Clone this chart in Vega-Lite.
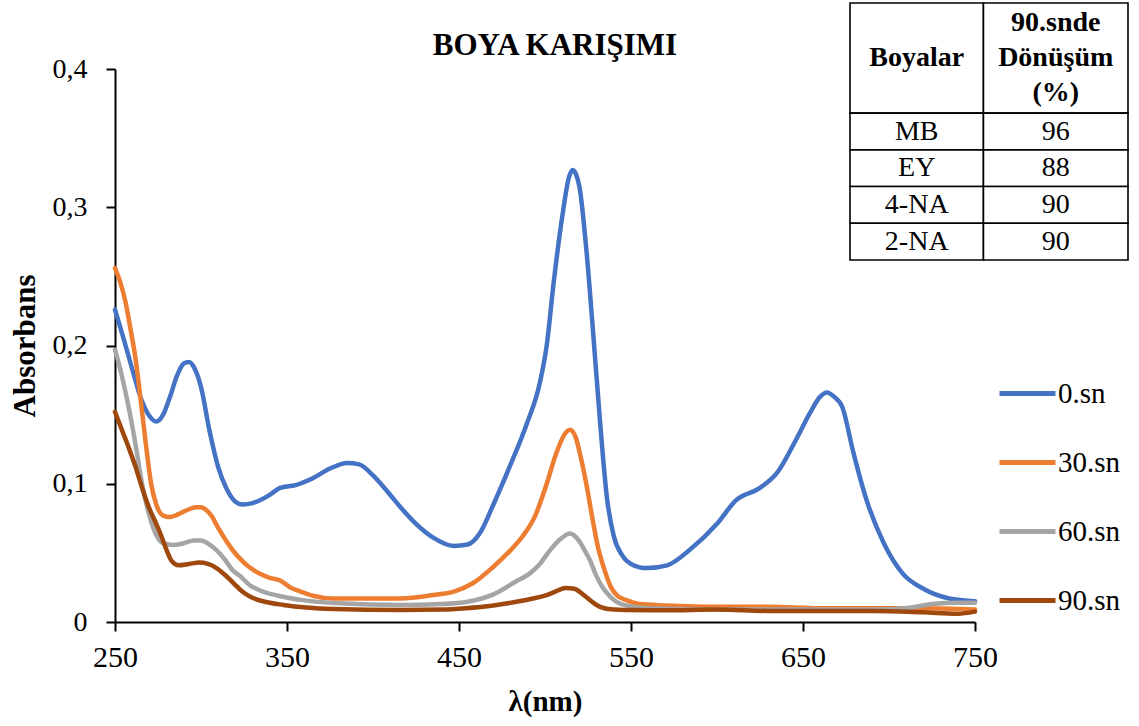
{
  "$schema": "https://vega.github.io/schema/vega-lite/v6.json",
  "autosize": {"type": "none"},
  "width": 860,
  "height": 553,
  "padding": {"left": 115, "top": 69, "right": 164, "bottom": 104},
  "background": "white",
  "config": {
    "font": "Liberation Serif",
    "view": {"stroke": null},
    "axis": {
      "domainColor": "black",
      "tickColor": "black",
      "domainWidth": 2,
      "tickWidth": 2,
      "labelColor": "black",
      "titleColor": "black",
      "labelFont": "Liberation Serif",
      "titleFont": "Liberation Serif",
      "titleFontWeight": "bold",
      "grid": false
    }
  },
  "title": {
    "text": "BOYA KARIŞIMI",
    "font": "Liberation Serif",
    "fontSize": 31,
    "fontWeight": "bold",
    "color": "black",
    "anchor": "middle",
    "baseline": "alphabetic",
    "dx": 10,
    "offset": -84
  },
  "datasets": {
    "spectra": [
      {"s": "0.sn", "nm": 250, "a": 0.226}, {"s": "0.sn", "nm": 255, "a": 0.205}, {"s": "0.sn", "nm": 260, "a": 0.183},
      {"s": "0.sn", "nm": 265, "a": 0.162}, {"s": "0.sn", "nm": 270, "a": 0.149}, {"s": "0.sn", "nm": 274, "a": 0.145},
      {"s": "0.sn", "nm": 278, "a": 0.150}, {"s": "0.sn", "nm": 282, "a": 0.163}, {"s": "0.sn", "nm": 286, "a": 0.178},
      {"s": "0.sn", "nm": 290, "a": 0.187}, {"s": "0.sn", "nm": 293, "a": 0.188}, {"s": "0.sn", "nm": 296, "a": 0.184},
      {"s": "0.sn", "nm": 300, "a": 0.170}, {"s": "0.sn", "nm": 305, "a": 0.138}, {"s": "0.sn", "nm": 310, "a": 0.112},
      {"s": "0.sn", "nm": 315, "a": 0.096}, {"s": "0.sn", "nm": 320, "a": 0.087}, {"s": "0.sn", "nm": 324, "a": 0.085},
      {"s": "0.sn", "nm": 330, "a": 0.086}, {"s": "0.sn", "nm": 340, "a": 0.092}, {"s": "0.sn", "nm": 346, "a": 0.097},
      {"s": "0.sn", "nm": 355, "a": 0.099}, {"s": "0.sn", "nm": 365, "a": 0.104}, {"s": "0.sn", "nm": 375, "a": 0.111},
      {"s": "0.sn", "nm": 385, "a": 0.115}, {"s": "0.sn", "nm": 392, "a": 0.114}, {"s": "0.sn", "nm": 400, "a": 0.106},
      {"s": "0.sn", "nm": 408, "a": 0.095}, {"s": "0.sn", "nm": 416, "a": 0.083}, {"s": "0.sn", "nm": 425, "a": 0.071},
      {"s": "0.sn", "nm": 435, "a": 0.061}, {"s": "0.sn", "nm": 447, "a": 0.055}, {"s": "0.sn", "nm": 455, "a": 0.056},
      {"s": "0.sn", "nm": 462, "a": 0.064}, {"s": "0.sn", "nm": 470, "a": 0.085}, {"s": "0.sn", "nm": 480, "a": 0.114},
      {"s": "0.sn", "nm": 489, "a": 0.142}, {"s": "0.sn", "nm": 497, "a": 0.173}, {"s": "0.sn", "nm": 501, "a": 0.200},
      {"s": "0.sn", "nm": 505, "a": 0.245}, {"s": "0.sn", "nm": 510, "a": 0.293}, {"s": "0.sn", "nm": 514, "a": 0.322},
      {"s": "0.sn", "nm": 516, "a": 0.327}, {"s": "0.sn", "nm": 518, "a": 0.324}, {"s": "0.sn", "nm": 520, "a": 0.315},
      {"s": "0.sn", "nm": 524, "a": 0.270}, {"s": "0.sn", "nm": 528, "a": 0.209}, {"s": "0.sn", "nm": 532, "a": 0.145},
      {"s": "0.sn", "nm": 536, "a": 0.090}, {"s": "0.sn", "nm": 540, "a": 0.062}, {"s": "0.sn", "nm": 545, "a": 0.048},
      {"s": "0.sn", "nm": 550, "a": 0.042}, {"s": "0.sn", "nm": 559, "a": 0.039}, {"s": "0.sn", "nm": 571, "a": 0.041},
      {"s": "0.sn", "nm": 584, "a": 0.052}, {"s": "0.sn", "nm": 600, "a": 0.071}, {"s": "0.sn", "nm": 611, "a": 0.088},
      {"s": "0.sn", "nm": 625, "a": 0.097}, {"s": "0.sn", "nm": 635, "a": 0.108}, {"s": "0.sn", "nm": 646, "a": 0.132},
      {"s": "0.sn", "nm": 654, "a": 0.151}, {"s": "0.sn", "nm": 660, "a": 0.163}, {"s": "0.sn", "nm": 664, "a": 0.166},
      {"s": "0.sn", "nm": 668, "a": 0.163}, {"s": "0.sn", "nm": 673, "a": 0.155}, {"s": "0.sn", "nm": 679, "a": 0.124},
      {"s": "0.sn", "nm": 687, "a": 0.088}, {"s": "0.sn", "nm": 697, "a": 0.057}, {"s": "0.sn", "nm": 708, "a": 0.035},
      {"s": "0.sn", "nm": 720, "a": 0.024}, {"s": "0.sn", "nm": 735, "a": 0.017}, {"s": "0.sn", "nm": 750, "a": 0.015},

      {"s": "30.sn", "nm": 250, "a": 0.256}, {"s": "30.sn", "nm": 253, "a": 0.246}, {"s": "30.sn", "nm": 256, "a": 0.232},
      {"s": "30.sn", "nm": 259, "a": 0.212}, {"s": "30.sn", "nm": 262, "a": 0.190}, {"s": "30.sn", "nm": 265, "a": 0.160},
      {"s": "30.sn", "nm": 268, "a": 0.128}, {"s": "30.sn", "nm": 271, "a": 0.100}, {"s": "30.sn", "nm": 274, "a": 0.085},
      {"s": "30.sn", "nm": 278, "a": 0.077}, {"s": "30.sn", "nm": 282, "a": 0.076}, {"s": "30.sn", "nm": 287, "a": 0.078},
      {"s": "30.sn", "nm": 292, "a": 0.081}, {"s": "30.sn", "nm": 297, "a": 0.083}, {"s": "30.sn", "nm": 300, "a": 0.083},
      {"s": "30.sn", "nm": 303, "a": 0.081}, {"s": "30.sn", "nm": 306, "a": 0.077}, {"s": "30.sn", "nm": 310, "a": 0.068},
      {"s": "30.sn", "nm": 315, "a": 0.058}, {"s": "30.sn", "nm": 319, "a": 0.051}, {"s": "30.sn", "nm": 325, "a": 0.043},
      {"s": "30.sn", "nm": 330, "a": 0.038}, {"s": "30.sn", "nm": 334, "a": 0.035}, {"s": "30.sn", "nm": 340, "a": 0.032},
      {"s": "30.sn", "nm": 346, "a": 0.030}, {"s": "30.sn", "nm": 352, "a": 0.025}, {"s": "30.sn", "nm": 358, "a": 0.022},
      {"s": "30.sn", "nm": 365, "a": 0.019}, {"s": "30.sn", "nm": 377, "a": 0.017}, {"s": "30.sn", "nm": 400, "a": 0.017},
      {"s": "30.sn", "nm": 416, "a": 0.017}, {"s": "30.sn", "nm": 435, "a": 0.0195}, {"s": "30.sn", "nm": 447, "a": 0.022},
      {"s": "30.sn", "nm": 458, "a": 0.028}, {"s": "30.sn", "nm": 470, "a": 0.040}, {"s": "30.sn", "nm": 480, "a": 0.052},
      {"s": "30.sn", "nm": 487, "a": 0.062}, {"s": "30.sn", "nm": 494, "a": 0.076}, {"s": "30.sn", "nm": 501, "a": 0.100},
      {"s": "30.sn", "nm": 506, "a": 0.120}, {"s": "30.sn", "nm": 511, "a": 0.135}, {"s": "30.sn", "nm": 514.5, "a": 0.139},
      {"s": "30.sn", "nm": 518, "a": 0.133}, {"s": "30.sn", "nm": 521, "a": 0.118}, {"s": "30.sn", "nm": 524, "a": 0.100},
      {"s": "30.sn", "nm": 528, "a": 0.072}, {"s": "30.sn", "nm": 531, "a": 0.053}, {"s": "30.sn", "nm": 534, "a": 0.040},
      {"s": "30.sn", "nm": 538, "a": 0.026}, {"s": "30.sn", "nm": 542, "a": 0.019}, {"s": "30.sn", "nm": 547, "a": 0.016},
      {"s": "30.sn", "nm": 555, "a": 0.013}, {"s": "30.sn", "nm": 570, "a": 0.012}, {"s": "30.sn", "nm": 600, "a": 0.011},
      {"s": "30.sn", "nm": 630, "a": 0.011}, {"s": "30.sn", "nm": 660, "a": 0.010}, {"s": "30.sn", "nm": 690, "a": 0.010},
      {"s": "30.sn", "nm": 720, "a": 0.010}, {"s": "30.sn", "nm": 750, "a": 0.009},

      {"s": "60.sn", "nm": 250, "a": 0.197}, {"s": "60.sn", "nm": 254, "a": 0.178}, {"s": "60.sn", "nm": 258, "a": 0.155},
      {"s": "60.sn", "nm": 262, "a": 0.128}, {"s": "60.sn", "nm": 266, "a": 0.098}, {"s": "60.sn", "nm": 270, "a": 0.077},
      {"s": "60.sn", "nm": 274, "a": 0.063}, {"s": "60.sn", "nm": 278, "a": 0.057}, {"s": "60.sn", "nm": 284, "a": 0.0557},
      {"s": "60.sn", "nm": 290, "a": 0.057}, {"s": "60.sn", "nm": 296, "a": 0.059}, {"s": "60.sn", "nm": 300, "a": 0.059},
      {"s": "60.sn", "nm": 305, "a": 0.056}, {"s": "60.sn", "nm": 309, "a": 0.052}, {"s": "60.sn", "nm": 314, "a": 0.045},
      {"s": "60.sn", "nm": 318, "a": 0.038}, {"s": "60.sn", "nm": 323, "a": 0.033}, {"s": "60.sn", "nm": 328, "a": 0.027},
      {"s": "60.sn", "nm": 334, "a": 0.023}, {"s": "60.sn", "nm": 345, "a": 0.019}, {"s": "60.sn", "nm": 358, "a": 0.016},
      {"s": "60.sn", "nm": 380, "a": 0.0135}, {"s": "60.sn", "nm": 416, "a": 0.0123}, {"s": "60.sn", "nm": 440, "a": 0.013},
      {"s": "60.sn", "nm": 455, "a": 0.0147}, {"s": "60.sn", "nm": 470, "a": 0.020}, {"s": "60.sn", "nm": 484, "a": 0.030},
      {"s": "60.sn", "nm": 491, "a": 0.035}, {"s": "60.sn", "nm": 497, "a": 0.042}, {"s": "60.sn", "nm": 503, "a": 0.052},
      {"s": "60.sn", "nm": 509, "a": 0.060}, {"s": "60.sn", "nm": 514.5, "a": 0.064}, {"s": "60.sn", "nm": 519, "a": 0.060},
      {"s": "60.sn", "nm": 523, "a": 0.052}, {"s": "60.sn", "nm": 526, "a": 0.045}, {"s": "60.sn", "nm": 530, "a": 0.033},
      {"s": "60.sn", "nm": 533, "a": 0.026}, {"s": "60.sn", "nm": 536, "a": 0.021}, {"s": "60.sn", "nm": 541, "a": 0.015},
      {"s": "60.sn", "nm": 547, "a": 0.012}, {"s": "60.sn", "nm": 560, "a": 0.010}, {"s": "60.sn", "nm": 600, "a": 0.009},
      {"s": "60.sn", "nm": 650, "a": 0.009}, {"s": "60.sn", "nm": 690, "a": 0.009}, {"s": "60.sn", "nm": 710, "a": 0.010},
      {"s": "60.sn", "nm": 725, "a": 0.013}, {"s": "60.sn", "nm": 740, "a": 0.014}, {"s": "60.sn", "nm": 750, "a": 0.014},

      {"s": "90.sn", "nm": 250, "a": 0.152}, {"s": "90.sn", "nm": 254, "a": 0.139}, {"s": "90.sn", "nm": 258, "a": 0.126},
      {"s": "90.sn", "nm": 262, "a": 0.112}, {"s": "90.sn", "nm": 266, "a": 0.096}, {"s": "90.sn", "nm": 270, "a": 0.082},
      {"s": "90.sn", "nm": 274, "a": 0.071}, {"s": "90.sn", "nm": 277, "a": 0.062}, {"s": "90.sn", "nm": 280, "a": 0.052},
      {"s": "90.sn", "nm": 283, "a": 0.044}, {"s": "90.sn", "nm": 287, "a": 0.041}, {"s": "90.sn", "nm": 293, "a": 0.042},
      {"s": "90.sn", "nm": 299, "a": 0.043}, {"s": "90.sn", "nm": 304, "a": 0.042}, {"s": "90.sn", "nm": 309, "a": 0.039},
      {"s": "90.sn", "nm": 314, "a": 0.034}, {"s": "90.sn", "nm": 319, "a": 0.028}, {"s": "90.sn", "nm": 324, "a": 0.022},
      {"s": "90.sn", "nm": 329, "a": 0.018}, {"s": "90.sn", "nm": 336, "a": 0.015}, {"s": "90.sn", "nm": 348, "a": 0.0123},
      {"s": "90.sn", "nm": 377, "a": 0.0094}, {"s": "90.sn", "nm": 416, "a": 0.0087}, {"s": "90.sn", "nm": 440, "a": 0.009},
      {"s": "90.sn", "nm": 454, "a": 0.010}, {"s": "90.sn", "nm": 470, "a": 0.012}, {"s": "90.sn", "nm": 485, "a": 0.015},
      {"s": "90.sn", "nm": 493, "a": 0.017}, {"s": "90.sn", "nm": 500, "a": 0.019}, {"s": "90.sn", "nm": 506, "a": 0.022},
      {"s": "90.sn", "nm": 512, "a": 0.0246}, {"s": "90.sn", "nm": 517, "a": 0.024}, {"s": "90.sn", "nm": 522, "a": 0.020},
      {"s": "90.sn", "nm": 527, "a": 0.015}, {"s": "90.sn", "nm": 532, "a": 0.011}, {"s": "90.sn", "nm": 540, "a": 0.009},
      {"s": "90.sn", "nm": 547, "a": 0.0087}, {"s": "90.sn", "nm": 570, "a": 0.0085}, {"s": "90.sn", "nm": 600, "a": 0.009},
      {"s": "90.sn", "nm": 630, "a": 0.008}, {"s": "90.sn", "nm": 660, "a": 0.008}, {"s": "90.sn", "nm": 690, "a": 0.008},
      {"s": "90.sn", "nm": 720, "a": 0.007}, {"s": "90.sn", "nm": 740, "a": 0.006}, {"s": "90.sn", "nm": 750, "a": 0.0075}
    ],
    "conversion": [
      {"c0": 0, "c1": 0.48, "r0": 0, "r1": 3, "txt": "Boyalar", "part": "head"},
      {"c0": 0.48, "c1": 1, "r0": 0, "r1": 3, "txt": "90.snde\nDönüşüm\n(%)", "part": "head3"},
      {"c0": 0, "c1": 0.48, "r0": 3, "r1": 4, "txt": "MB", "part": "body"},
      {"c0": 0.48, "c1": 1, "r0": 3, "r1": 4, "txt": "96", "part": "body"},
      {"c0": 0, "c1": 0.48, "r0": 4, "r1": 5, "txt": "EY", "part": "body"},
      {"c0": 0.48, "c1": 1, "r0": 4, "r1": 5, "txt": "88", "part": "body"},
      {"c0": 0, "c1": 0.48, "r0": 5, "r1": 6, "txt": "4-NA", "part": "body"},
      {"c0": 0.48, "c1": 1, "r0": 5, "r1": 6, "txt": "90", "part": "body"},
      {"c0": 0, "c1": 0.48, "r0": 6, "r1": 7, "txt": "2-NA", "part": "body"},
      {"c0": 0.48, "c1": 1, "r0": 6, "r1": 7, "txt": "90", "part": "body"}
    ]
  },
  "layer": [
    {
      "data": {"name": "spectra"},
      "mark": {"type": "line", "strokeWidth": 4.5, "interpolate": "monotone", "strokeCap": "round", "strokeJoin": "round"},
      "encoding": {
        "x": {
          "field": "nm",
          "type": "quantitative",
          "scale": {"domain": [250, 750], "nice": false, "zero": false},
          "axis": {
            "title": "λ(nm)",
            "values": [250, 350, 450, 550, 650, 750],
            "tickSize": 9,
            "labelFontSize": 30,
            "titleFontSize": 29,
            "labelPadding": 11,
            "titlePadding": 15,
            "labelFlush": false
          }
        },
        "y": {
          "field": "a",
          "type": "quantitative",
          "scale": {"domain": [0, 0.4], "nice": false},
          "axis": {
            "title": "Absorbans",
            "values": [0, 0.1, 0.2, 0.3, 0.4],
            "labelExpr": "datum.value == 0 ? '0' : replace(format(datum.value, '.1f'), '.', ',')",
            "tickSize": 9,
            "labelFontSize": 28,
            "titleFontSize": 31,
            "labelPadding": 19,
            "titlePadding": 11
          }
        },
        "color": {
          "field": "s",
          "type": "nominal",
          "sort": ["0.sn", "30.sn", "60.sn", "90.sn"],
          "scale": {
            "domain": ["0.sn", "30.sn", "60.sn", "90.sn"],
            "range": ["#4472C4", "#ED7D31", "#A5A5A5", "#9E480E"]
          },
          "legend": {
            "title": null,
            "orient": "none",
            "legendX": 882,
            "legendY": 294,
            "symbolType": "stroke",
            "symbolSize": 3136,
            "symbolStrokeWidth": 5,
            "labelFont": "Liberation Serif",
            "labelFontSize": 29,
            "labelColor": "black",
            "labelOffset": 0,
            "rowPadding": 23
          }
        }
      }
    },
    {
      "data": {"name": "conversion"},
      "transform": [
        {"calculate": "(datum.c0 + datum.c1) / 2", "as": "cm"},
        {"calculate": "(datum.r0 + datum.r1) / 2", "as": "rm"}
      ],
      "encoding": {
        "x": {"field": "c0", "type": "quantitative", "scale": {"domain": [0, 1], "range": [735, 1013]}, "axis": null},
        "y": {"field": "r0", "type": "quantitative", "scale": {"domain": [0, 7], "range": [-66, 191]}, "axis": null}
      },
      "layer": [
        {
          "mark": {"type": "rect", "fill": "white", "stroke": "black", "strokeWidth": 1.6},
          "encoding": {
            "x2": {"field": "c1"},
            "y2": {"field": "r1"}
          }
        },
        {
          "transform": [{"filter": "datum.part == 'head'"}],
          "mark": {"type": "text", "font": "Liberation Serif", "fontSize": 28, "fontWeight": "bold", "color": "black", "baseline": "middle", "align": "center"},
          "encoding": {
            "x": {"field": "cm", "type": "quantitative"},
            "y": {"field": "rm", "type": "quantitative"},
            "text": {"field": "txt"}
          }
        },
        {
          "transform": [{"filter": "datum.part == 'head3'"}],
          "mark": {"type": "text", "font": "Liberation Serif", "fontSize": 28, "fontWeight": "bold", "color": "black", "lineBreak": "\n", "lineHeight": 35, "baseline": "middle", "align": "center", "dy": -35},
          "encoding": {
            "x": {"field": "cm", "type": "quantitative"},
            "y": {"field": "rm", "type": "quantitative"},
            "text": {"field": "txt"}
          }
        },
        {
          "transform": [{"filter": "datum.part == 'body'"}],
          "mark": {"type": "text", "font": "Liberation Serif", "fontSize": 28, "color": "black", "baseline": "middle", "align": "center"},
          "encoding": {
            "x": {"field": "cm", "type": "quantitative"},
            "y": {"field": "rm", "type": "quantitative"},
            "text": {"field": "txt"}
          }
        }
      ]
    }
  ],
  "resolve": {"scale": {"x": "independent", "y": "independent"}}
}
